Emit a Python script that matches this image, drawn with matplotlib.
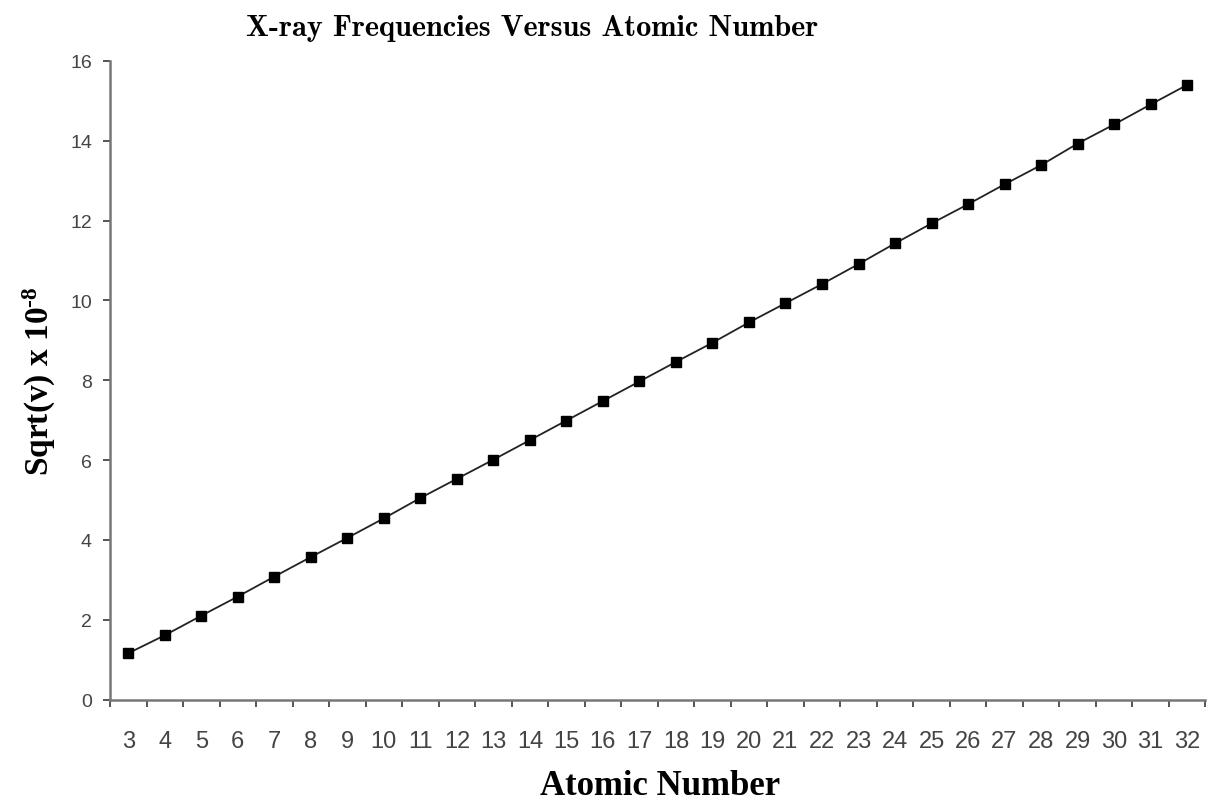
import numpy as np
import matplotlib
matplotlib.use("Agg")
import matplotlib.pyplot as plt
from matplotlib.ticker import FixedLocator

# Atomic numbers and sqrt(frequency) x 10^-8 values
atomic_numbers = list(range(3, 33))
sqrt_freq = [1.16, 1.61, 2.10, 2.58, 3.08, 3.57, 4.05, 4.54, 5.05, 5.53,
             6.01, 6.50, 6.99, 7.48, 7.97, 8.46, 8.94, 9.45, 9.93, 10.41,
             10.91, 11.43, 11.93, 12.41, 12.91, 13.39, 13.93, 14.41, 14.91, 15.40]
y_ticks = [0, 2, 4, 6, 8, 10, 12, 14, 16]

# math text in bold Times-like serif, so the exponent matches the label
plt.rcParams["mathtext.fontset"] = "custom"
plt.rcParams["mathtext.rm"] = "Liberation Serif:bold"
plt.rcParams["mathtext.it"] = "Liberation Serif:bold"
plt.rcParams["mathtext.bf"] = "Liberation Serif:bold"

fig = plt.figure(figsize=(12.09, 8.04), dpi=100)
ax = fig.add_axes([0.091, 0.1287, 0.906, 0.7942])

# category axis: one slot per element
pos = np.arange(len(atomic_numbers))
ax.plot(pos, sqrt_freq, color="#222222", lw=1.3, marker="s", markersize=7,
        markerfacecolor="black", markeredgecolor="black")

ax.set_xlim(-0.5, len(atomic_numbers) - 0.5)
ax.set_ylim(0, 16)

ax.set_xticks(pos)
ax.set_xticklabels([str(z) for z in atomic_numbers])
ax.xaxis.set_minor_locator(FixedLocator(np.arange(-0.5, len(atomic_numbers), 1.0)))
ax.tick_params(axis="x", which="major", length=0, pad=22, labelsize=17,
               labelcolor="#444444")
ax.tick_params(axis="x", which="minor", length=5, width=1.4, color="#555555",
               direction="out")

ax.set_yticks(y_ticks)
ax.tick_params(axis="y", length=5, width=1.4, color="#555555", pad=8,
               labelsize=14, labelcolor="#444444")

for lbl in ax.get_xticklabels() + ax.get_yticklabels():
    lbl.set_fontfamily("Liberation Sans")

for side in ("top", "right"):
    ax.spines[side].set_visible(False)
for side in ("left", "bottom"):
    ax.spines[side].set_color("#777777")
    ax.spines[side].set_linewidth(1.8)

fig.text(0.44, 0.964, "X-ray Frequencies Versus Atomic Number",
         fontfamily="cmb10", fontsize=21.8, ha="center", va="center")
fig.text(0.546, 0.001, "Atomic Number", fontfamily="Liberation Serif",
         fontweight="bold", fontsize=25, ha="center", va="bottom")
fig.text(0.033, 0.526, r"Sqrt(v) x 10$^{\text{-8}}$", fontfamily="Liberation Serif",
         fontweight="bold", fontsize=24,
         rotation=90, ha="center", va="center")

fig.savefig("out.png", dpi=100)
